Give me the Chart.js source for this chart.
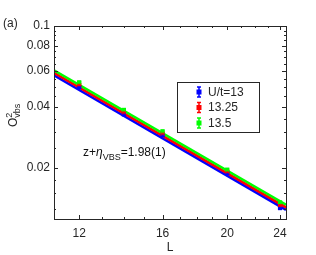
<!DOCTYPE html>
<html>
<head>
<meta charset="utf-8">
<script src="https://cdn.jsdelivr.net/npm/chart.js@4.4.1/dist/chart.umd.min.js"></script>
<style>
  html, body { margin: 0; padding: 0; background: #fff; }
  #wrap { width: 316px; height: 255px; }
</style>
</head>
<body>
<div id="wrap"><canvas id="chart" width="316" height="255"></canvas></div>
<script>
// system sizes and measured O^2_vbs for each U/t
const sizes = [12, 14, 16, 20, 24];
const vbs13 = [0.0499, 0.0367, 0.0289, 0.0188, 0.01268];
const vbs1325 = [0.0513, 0.0376, 0.0296, 0.0192, 0.0131];
const vbs135 = [0.0528, 0.0386, 0.0303, 0.0196, 0.01352];
const err13 = [0.0005, 0.0004, 0.0003, 0.0002, 0.00015];
const err1325 = [0.0005, 0.0004, 0.0003, 0.0002, 0.00015];
const err135 = [0.0005, 0.0004, 0.0003, 0.0002, 0.00015];

// fitted power-law lines, end points
const fitL = [11, 24.5];
const fit13 = [0.0572, 0.01243];
const fit1325 = [0.0588, 0.01279];
const fit135 = [0.0605, 0.01316];

const legendLabels = ['U/t=13', '13.25', '13.5'];
const colors = ['#0000ff', '#ff0000', '#00ff00'];

const xTicks = [12, 16, 20, 24];
const yTicks = [0.02, 0.04, 0.06, 0.08, 0.1];
const xMinor = [11, 13, 14, 15, 17, 18, 19, 21, 22, 23];
const yMinor = [0.0125, 0.015, 0.0175, 0.025, 0.03, 0.035, 0.045, 0.05, 0.055, 0.065, 0.07, 0.075, 0.085, 0.09, 0.095];

const axisColor = '#262626';
const font = 'Liberation Sans, Arial, sans-serif';

const toPts = (xs, ys) => xs.map((x, i) => ({ x: x, y: ys[i] }));

const pointSets = [vbs13, vbs1325, vbs135];
const errSets = [err13, err1325, err135];
const fitSets = [fit13, fit1325, fit135];

const datasets = [];
pointSets.forEach((p, i) => {
  datasets.push({
    data: toPts(sizes, p),
    showLine: false,
    pointStyle: 'rect',
    pointRadius: 3,
    backgroundColor: colors[i],
    borderColor: colors[i],
    borderWidth: 0,
    errors: errSets[i],
    order: 6 - i
  });
});
fitSets.forEach((f, i) => {
  datasets.push({
    data: toPts(fitL, f),
    showLine: true,
    borderColor: colors[i],
    borderWidth: 2.5,
    pointRadius: 0,
    order: 9 - i
  });
});

// box, inward ticks, error bars, legend and text
const decorations = {
  id: 'decorations',
  afterDatasetsDraw(chart) {
    const ctx = chart.ctx;
    const xs = chart.scales.x, ys = chart.scales.y;
    ctx.save();
    ctx.lineWidth = 1;
    chart.data.datasets.forEach(ds => {
      if (!ds.errors) return;
      ctx.strokeStyle = ds.borderColor;
      ds.data.forEach((p, i) => {
        const px = xs.getPixelForValue(p.x);
        const top = ys.getPixelForValue(p.y + ds.errors[i]);
        const bot = ys.getPixelForValue(p.y - ds.errors[i]);
        ctx.beginPath();
        ctx.moveTo(px, top); ctx.lineTo(px, bot);
        ctx.moveTo(px - 2, top); ctx.lineTo(px + 2, top);
        ctx.moveTo(px - 2, bot); ctx.lineTo(px + 2, bot);
        ctx.stroke();
      });
    });
    ctx.restore();
  },
  afterDraw(chart) {
    const ctx = chart.ctx;
    const a = chart.chartArea;
    const xs = chart.scales.x, ys = chart.scales.y;
    ctx.save();
    ctx.strokeStyle = axisColor;
    ctx.lineWidth = 1;
    ctx.strokeRect(Math.round(a.left) + 0.5, Math.round(a.top) + 0.5,
      Math.round(a.right - a.left), Math.round(a.bottom - a.top));

    const tick = (vals, len) => {
      ctx.beginPath();
      vals.x.forEach(v => {
        const px = Math.round(xs.getPixelForValue(v)) + 0.5;
        ctx.moveTo(px, a.bottom); ctx.lineTo(px, a.bottom - len);
        ctx.moveTo(px, a.top); ctx.lineTo(px, a.top + len);
      });
      vals.y.forEach(v => {
        const py = Math.round(ys.getPixelForValue(v)) + 0.5;
        ctx.moveTo(a.left, py); ctx.lineTo(a.left + len, py);
        ctx.moveTo(a.right, py); ctx.lineTo(a.right - len, py);
      });
      ctx.stroke();
    };
    tick({ x: xTicks, y: yTicks }, 4);
    tick({ x: xMinor, y: yMinor }, 2);

    // legend
    const lx = 177, ly = 82, lw = 82, lh = 50;
    ctx.fillStyle = '#fff';
    ctx.fillRect(lx, ly, lw, lh);
    ctx.strokeRect(lx + 0.5, ly + 0.5, lw, lh);
    ctx.font = '12px ' + font;
    ctx.textBaseline = 'middle';
    legendLabels.forEach((lab, i) => {
      const cy = ly + 10 + i * 15.5;
      const ix = 199;
      ctx.strokeStyle = colors[i];
      ctx.fillStyle = colors[i];
      ctx.lineWidth = 1.5;
      ctx.beginPath();
      ctx.moveTo(ix, cy - 5); ctx.lineTo(ix, cy + 5);
      ctx.moveTo(ix - 2, cy - 5); ctx.lineTo(ix + 2, cy - 5);
      ctx.moveTo(ix - 2, cy + 5); ctx.lineTo(ix + 2, cy + 5);
      ctx.stroke();
      ctx.fillRect(ix - 2.5, cy - 2.5, 5, 5);
      ctx.fillStyle = axisColor;
      ctx.fillText(lab, 208, cy + 0.5);
    });

    // annotation z+eta_VBS
    ctx.fillStyle = '#111';
    ctx.textBaseline = 'alphabetic';
    let tx = 83;
    const by = 156;
    ctx.font = '12px ' + font;
    ctx.fillText('z+', tx, by);
    tx += ctx.measureText('z+').width;
    ctx.font = 'italic 12px ' + font;
    ctx.fillText('\u03b7', tx, by);
    tx += ctx.measureText('\u03b7').width;
    ctx.font = '9px ' + font;
    ctx.fillText('VBS', tx, by + 4);
    tx += ctx.measureText('VBS').width;
    ctx.font = '12px ' + font;
    ctx.fillText('=1.98(1)', tx, by);

    // panel label and axis titles
    ctx.fillStyle = axisColor;
    ctx.font = '12px ' + font;
    ctx.fillText('(a)', 3, 27);
    ctx.textAlign = 'center';
    ctx.fillText('L', 170, 251);

    ctx.translate(17, 127);
    ctx.rotate(-Math.PI / 2);
    ctx.textAlign = 'left';
    ctx.font = '12px ' + font;
    ctx.fillText('O', 0, 0);
    const ow = ctx.measureText('O').width;
    ctx.font = '9px ' + font;
    ctx.fillText('2', ow, -5);
    ctx.fillText('vbs', ow, 3);
    ctx.restore();
  }
};

new Chart(document.getElementById('chart'), {
  type: 'scatter',
  data: { datasets: datasets },
  options: {
    responsive: false,
    animation: false,
    layout: { padding: { top: 26, right: 30, left: 0, bottom: 0 } },
    plugins: { legend: { display: false }, tooltip: { enabled: false } },
    scales: {
      x: {
        type: 'logarithmic',
        min: 11,
        max: 24.5,
        grid: { display: false, drawTicks: false, tickLength: 0 },
        border: { display: false },
        ticks: { color: axisColor, font: { family: font, size: 12 }, padding: 7, callback: v => String(v) },
        afterBuildTicks: s => { s.ticks = xTicks.map(v => ({ value: v })); },
        afterFit: s => { s.height = 36; }
      },
      y: {
        type: 'logarithmic',
        min: 0.0112,
        max: 0.1,
        grid: { display: false, drawTicks: false, tickLength: 0 },
        border: { display: false },
        ticks: { color: axisColor, font: { family: font, size: 12 }, padding: 4, callback: v => String(v) },
        afterBuildTicks: s => { s.ticks = yTicks.map(v => ({ value: v })); },
        afterFit: s => { s.width = 54; }
      }
    }
  },
  plugins: [decorations]
});
</script>
</body>
</html>
